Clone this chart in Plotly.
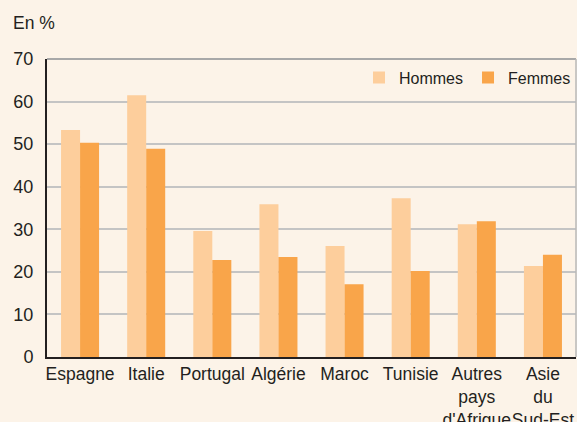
import plotly.graph_objects as go

categories = ["Espagne", "Italie", "Portugal", "Algérie", "Maroc", "Tunisie",
              "Autres<br>pays<br>d'Afrique", "Asie<br>du<br>Sud-Est"]
hommes = [53.3, 61.5, 29.6, 35.9, 26.1, 37.3, 31.2, 21.4]
femmes = [50.3, 48.9, 22.8, 23.5, 17.1, 20.2, 31.9, 24.0]
y_ticks = [0, 10, 20, 30, 40, 50, 60, 70]

BG = "#FCF3E8"
TXT = "#231F20"
FONT = "Liberation Sans, Arial, sans-serif"

W, H = 577, 422
L, R, T, B = 47, 1, 59, 65

fig = go.Figure()
fig.add_trace(go.Bar(x=categories, y=hommes, name="Hommes", marker_color="#FDCE9C",
                     marker_line_width=0))
fig.add_trace(go.Bar(x=categories, y=femmes, name="Femmes", marker_color="#F9A54A",
                     marker_line_width=0))

fig.update_layout(
    width=W, height=H,
    margin=dict(l=L, r=R, t=T, b=B, pad=0, autoexpand=False),
    paper_bgcolor=BG, plot_bgcolor=BG,
    barmode="group", bargap=0.425, bargroupgap=0,
    font=dict(family=FONT, size=17, color=TXT),
    showlegend=True,
    legend=dict(orientation="h", x=1.0, xanchor="right", y=0.995, yanchor="top",
                bgcolor="rgba(0,0,0,0)", font=dict(size=16, color=TXT),
                itemwidth=30, traceorder="normal"),
    annotations=[dict(text="En %", xref="paper", yref="paper",
                      x=-36 / (W - L - R), y=1 + (T - 23) / (H - T - B),
                      xanchor="left", yanchor="middle", showarrow=False,
                      font=dict(size=17.5, color=TXT))],
)
fig.update_xaxes(showline=True, linecolor=TXT, linewidth=2, ticks="",
                 showgrid=False, tickfont=dict(size=17.5), tickangle=0,
                 automargin=False, fixedrange=True)
fig.update_yaxes(range=[0, 70], tickvals=y_ticks, showline=True, linecolor=TXT,
                 linewidth=2, showgrid=True, gridcolor="#C4C4C4", gridwidth=1.5,
                 ticks="", ticklabelstandoff=8, tickfont=dict(size=18),
                 zeroline=False, automargin=False)
# top border line and right border
fig.add_shape(type="line", xref="paper", yref="paper", x0=0, x1=1, y0=1, y1=1,
              line=dict(color="#A8A8A8", width=2))
fig.add_shape(type="line", xref="paper", yref="paper", x0=1, x1=1, y0=0, y1=1,
              line=dict(color="#B8B8B8", width=1.5))

fig.write_html("out.html", config={"displayModeBar": False})

# remove the default page margin so the figure sits at the window's corner
with open("out.html", encoding="utf-8") as f:
    html = f.read()
html = html.replace("<body>", "<body style=\"margin:0;overflow:hidden;\">", 1)
with open("out.html", "w", encoding="utf-8") as f:
    f.write(html)
